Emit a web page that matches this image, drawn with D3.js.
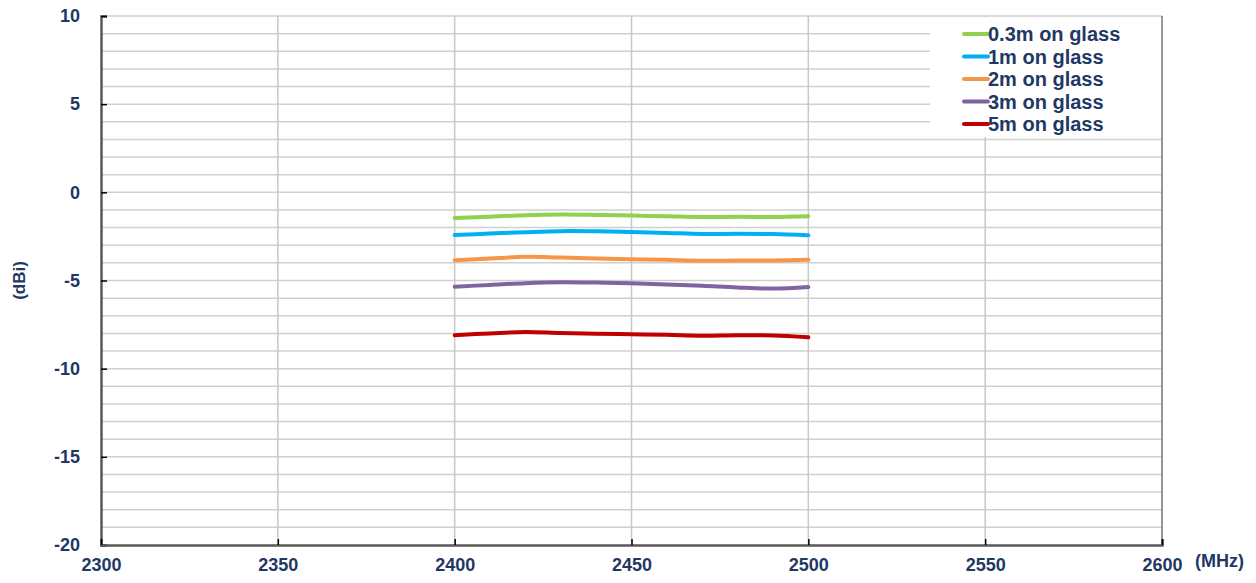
<!DOCTYPE html>
<html>
<head>
    <meta charset="utf-8">
    <title>Gain vs frequency on glass</title>
    <script src="https://d3js.org/d3.v7.min.js"></script>
    <style>
        body { margin: 0; background: #fff; }
        text { font-family: Arial, "Liberation Sans", sans-serif; font-weight: bold; fill: #1f3864; }
    </style>
</head>
<body>
<div id="chart"></div>
<script>
    // frequencies (MHz) and gain values (dBi)
    var freqs = [2400, 2410, 2420, 2430, 2440, 2450, 2460, 2470, 2480, 2490, 2500];
    var gain03 = [-1.45, -1.38, -1.30, -1.26, -1.28, -1.32, -1.36, -1.40, -1.39, -1.40, -1.36];
    var gain1 = [-2.42, -2.34, -2.26, -2.20, -2.21, -2.25, -2.30, -2.36, -2.35, -2.37, -2.43];
    var gain2 = [-3.85, -3.75, -3.66, -3.70, -3.75, -3.79, -3.83, -3.88, -3.87, -3.86, -3.83];
    var gain3 = [-5.35, -5.25, -5.15, -5.10, -5.12, -5.16, -5.22, -5.30, -5.40, -5.46, -5.37];
    var gain5 = [-8.10, -8.00, -7.92, -7.98, -8.02, -8.05, -8.08, -8.13, -8.10, -8.12, -8.22];
    var seriesNames = ["0.3m on glass", "1m on glass", "2m on glass", "3m on glass", "5m on glass"];
    var seriesColors = ["#92d050", "#00b0f0", "#f79646", "#8064a2", "#c00000"];
    var xTicks = [2300, 2350, 2400, 2450, 2500, 2550, 2600];
    var yTicks = [10, 5, 0, -5, -10, -15, -20];

    var allSeries = [gain03, gain1, gain2, gain3, gain5];

    var margin = {top: 16, right: 94, bottom: 38, left: 101},
        width = 1256 - margin.left - margin.right,
        height = 583 - margin.top - margin.bottom;

    var svg = d3.select("#chart")
        .append("svg")
        .attr("width", 1256)
        .attr("height", 583)
        .append("g")
        .attr("transform", "translate(" + margin.left + "," + margin.top + ")");

    var x = d3.scaleLinear().domain([2300, 2600]).range([0, width]);
    var y = d3.scaleLinear().domain([-20, 10]).range([height, 0]);

    // horizontal grid, every 1 dB
    svg.append("g")
        .selectAll("line")
        .data(d3.range(-19, 11))
        .enter().append("line")
        .attr("x1", 0).attr("x2", width)
        .attr("y1", d => y(d)).attr("y2", d => y(d))
        .attr("stroke", "#d0d0d0")
        .attr("stroke-width", 1.5);

    // vertical grid
    svg.append("g")
        .selectAll("line")
        .data(xTicks.slice(1))
        .enter().append("line")
        .attr("x1", d => x(d)).attr("x2", d => x(d))
        .attr("y1", 0).attr("y2", height)
        .attr("stroke", "#c8c8c8")
        .attr("stroke-width", 1.5);

    // legend background hides the grid behind it
    var legend = svg.append("g")
        .attr("transform", "translate(" + (x(2300) + 829) + ",1)");
    legend.append("rect")
        .attr("x", 0).attr("y", 0)
        .attr("width", width - 829)
        .attr("height", 120)
        .attr("fill", "#fff");

    // frame
    svg.append("line")
        .attr("x1", width).attr("x2", width)
        .attr("y1", 0).attr("y2", height)
        .attr("stroke", "#7f7f7f").attr("stroke-width", 1.5);

    // axes
    var fmt = d => String(d);
    var yAxis = svg.append("g")
        .call(d3.axisLeft(y).tickValues(yTicks).tickSize(-6).tickPadding(21).tickFormat(fmt));
    var xAxis = svg.append("g")
        .attr("transform", "translate(0," + height + ")")
        .call(d3.axisBottom(x).tickValues(xTicks).tickSize(-6).tickPadding(13).tickFormat(fmt));

    [yAxis, xAxis].forEach(function(a) {
        a.select(".domain").attr("stroke", "#595959").attr("stroke-width", 2.5);
        a.selectAll(".tick line").attr("stroke", "#000").attr("stroke-width", 1.5);
        a.selectAll(".tick text").style("font-size", "18px").attr("fill", "#1f3864");
    });

    // lines
    var line = d3.line()
        .x((d, i) => x(freqs[i]))
        .y(d => y(d))
        .curve(d3.curveCatmullRom);

    allSeries.forEach(function(s, i) {
        svg.append("path")
            .datum(s)
            .attr("fill", "none")
            .attr("stroke", seriesColors[i])
            .attr("stroke-width", 4)
            .attr("stroke-linecap", "round")
            .attr("d", line);
    });

    // legend entries
    seriesNames.forEach(function(name, i) {
        var g = legend.append("g").attr("transform", "translate(0," + (17 + i * 22.5) + ")");
        g.append("line")
            .attr("x1", 34).attr("x2", 58)
            .attr("y1", 0).attr("y2", 0)
            .attr("stroke", seriesColors[i])
            .attr("stroke-width", 4)
            .attr("stroke-linecap", "round");
        g.append("text")
            .attr("x", 58).attr("y", 7)
            .style("font-size", "20px")
            .text(name);
    });

    // axis titles
    svg.append("text")
        .attr("transform", "translate(" + (-76) + "," + (y(-5)) + ") rotate(-90)")
        .attr("text-anchor", "middle")
        .style("font-size", "17px")
        .text("(dBi)");
    svg.append("text")
        .attr("x", width + 33).attr("y", height + 22)
        .style("font-size", "18px")
        .text("(MHz)");
</script>
</body>
</html>
